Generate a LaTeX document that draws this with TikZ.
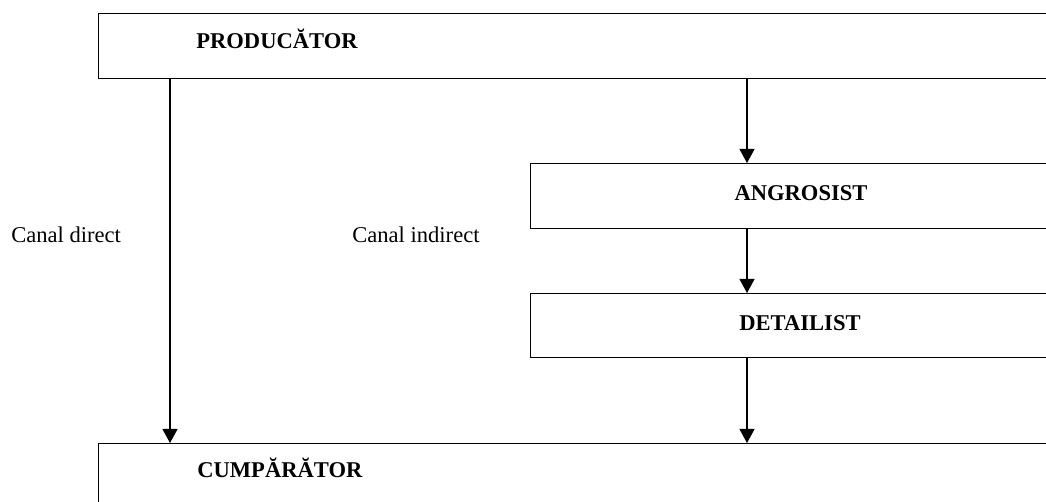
\documentclass[tikz,border=0pt,12pt]{standalone}
\usepackage{fontspec}
\setmainfont{Liberation Serif}
\usetikzlibrary{arrows.meta,positioning}
\newcommand{\pxu}{0.532pt}
\tikzstyle{arrow} = [line width=0.7pt,-{Triangle[length=7.5pt,width=8pt]}]
\tikzstyle{level} = [rectangle, draw, line width=0.7pt, inner sep=0pt, anchor=north west]
\tikzstyle{title} = [font=\bfseries, inner sep=0pt]
\tikzstyle{note} = [inner sep=0pt, anchor=base west]

\begin{document}
\begin{tikzpicture}[x=\pxu,y=-\pxu]
\useasboundingbox (0,0) rectangle (1046,501);
\clip (0,0) rectangle (1046,501);
\node (producator) [level, minimum width=962*\pxu, minimum height=65*\pxu] at (98,13) {};
\node (angrosist) [level, minimum width=530*\pxu, minimum height=65*\pxu] at (530,163) {};
\node (detailist) [level, minimum width=530*\pxu, minimum height=64*\pxu] at (530,293) {};
\node (cumparator) [level, minimum width=962*\pxu, minimum height=90*\pxu] at (98,443) {};

\node (tproducator) [title, anchor=base west] at (196,48) {PRODUCĂTOR};
\node (tangrosist) [title, anchor=base] at (801,200) {ANGROSIST};
\node (tdetailist) [title, anchor=base] at (800,330) {DETAILIST};
\node (tcumparator) [title, anchor=base west] at (197,477) {CUMPĂRĂTOR};
\node (direct) [note] at (11,242) {Canal direct};
\node (indirect) [note] at (352,242) {Canal indirect};

\draw[arrow] ([xshift=72*\pxu]producator.south west) -- ([xshift=72*\pxu]cumparator.north west);
\draw[arrow] ([xshift=649*\pxu]producator.south west) -- ([xshift=217*\pxu]angrosist.north west);
\draw[arrow] ([xshift=217*\pxu]angrosist.south west) -- ([xshift=217*\pxu]detailist.north west);
\draw[arrow] ([xshift=217*\pxu]detailist.south west) -- ([xshift=649*\pxu]cumparator.north west);
\end{tikzpicture}
\end{document}
